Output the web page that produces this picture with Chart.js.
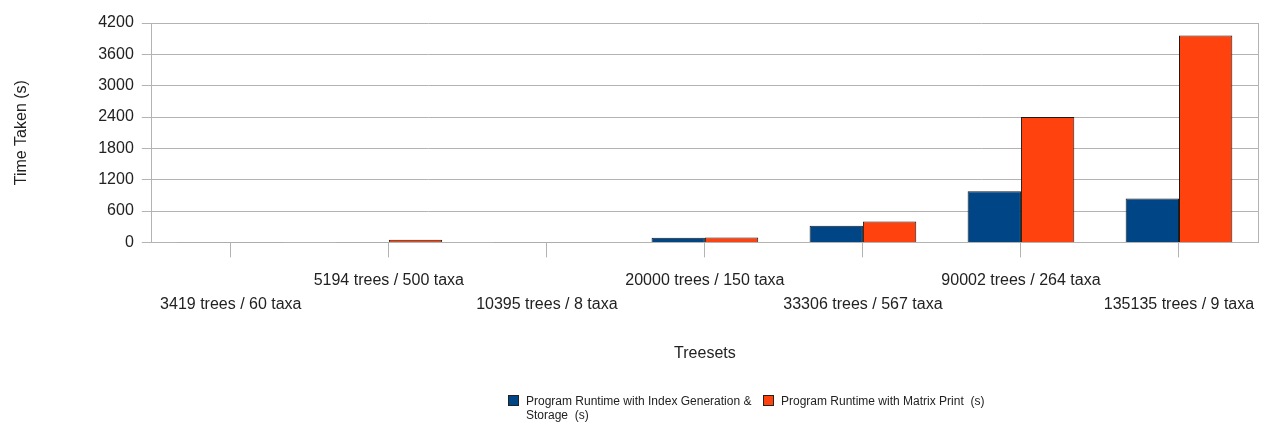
<!DOCTYPE html>
<html>
<head>
<meta charset="utf-8">
<script src="https://cdn.jsdelivr.net/npm/chart.js@4"></script>
<style>
  body { margin: 0; background: #fff; font-family: "Liberation Sans", Arial, sans-serif; }
  #wrap { position: relative; width: 1275px; height: 426px; }
  #legend { position: absolute; left: 508px; top: 394px; display: flex; font-size: 12px; color: #222; line-height: 14px; }
  .item { display: flex; align-items: flex-start; margin-right: 5px; }
  .box { width: 9px; height: 9px; border: 1px solid #222; margin: 1px 7px 0 0; flex: none; }
  .txt { white-space: pre-wrap; }
</style>
</head>
<body>
<div id="wrap">
  <canvas id="chart" width="1275" height="426"></canvas>
  <div id="legend"></div>
</div>
<script>
const treesets = [
  '3419 trees / 60 taxa',
  '5194 trees / 500 taxa',
  '10395 trees / 8 taxa',
  '20000 trees / 150 taxa',
  '33306 trees / 567 taxa',
  '90002 trees / 264 taxa',
  '135135 trees / 9 taxa'
]
const indexRuntime = [5, 5, 5, 90, 320, 980, 840]
const matrixRuntime = [5, 50, 5, 95, 400, 2400, 3960]
const seriesNames = ['Program Runtime with Index Generation & Storage  (s)', 'Program Runtime with Matrix Print  (s)']
const seriesColors = ['#004586', '#ff420e']

const font = "'Liberation Sans', Arial, sans-serif"
const gridGray = '#b3b3b3'

// frame on the right side of the plot
const frame = {
  id: 'frame',
  afterDraw(chart) {
    const { ctx, chartArea } = chart
    ctx.save()
    ctx.strokeStyle = gridGray
    ctx.lineWidth = 1
    ctx.beginPath()
    ctx.moveTo(Math.round(chartArea.right) + 0.5, chartArea.top)
    ctx.lineTo(Math.round(chartArea.right) + 0.5, chartArea.bottom)
    ctx.stroke()
    ctx.restore()
  }
}

const chart = new Chart(document.getElementById('chart').getContext('2d'), {
  type: 'bar',
  data: {
    labels: treesets,
    datasets: [
      { label: seriesNames[0], data: indexRuntime, backgroundColor: seriesColors[0], borderColor: '#1a1a1a', borderWidth: 1 },
      { label: seriesNames[1], data: matrixRuntime, backgroundColor: seriesColors[1], borderColor: '#1a1a1a', borderWidth: 1 }
    ]
  },
  options: {
    responsive: false,
    animation: false,
    layout: { padding: { top: 23, right: 17, bottom: 63, left: 12 } },
    datasets: { bar: { categoryPercentage: 0.675, barPercentage: 1 } },
    plugins: {
      legend: { display: false },
      tooltip: { enabled: false }
    },
    scales: {
      x: {
        grid: { display: true, drawOnChartArea: false, offset: false, tickLength: 15, color: gridGray },
        border: { color: gridGray },
        ticks: {
          autoSkip: false,
          maxRotation: 0,
          minRotation: 0,
          padding: 12,
          color: '#222',
          font: { family: font, size: 16, lineHeight: 1.45 },
          callback: function (value, index) {
            const l = this.getLabelForValue(value)
            return index % 2 ? [l, ''] : ['', l]
          }
        },
        title: { display: true, text: 'Treesets', color: '#222', font: { family: font, size: 16 }, padding: { top: 16, bottom: 0 } }
      },
      y: {
        min: 0,
        max: 4200,
        grid: { color: gridGray, tickLength: 10 },
        border: { color: gridGray },
        ticks: {
          stepSize: 600,
          padding: 8,
          color: '#222',
          font: { family: font, size: 16 },
          callback: (v) => String(v)
        },
        title: { display: true, text: 'Time Taken (s)', color: '#222', font: { family: font, size: 16 }, padding: { top: 0, bottom: 59 } }
      }
    }
  },
  plugins: [frame]
})

const legend = document.getElementById('legend')
seriesNames.forEach((name, i) => {
  const item = document.createElement('div')
  item.className = 'item'
  const box = document.createElement('div')
  box.className = 'box'
  box.style.background = seriesColors[i]
  const txt = document.createElement('div')
  txt.className = 'txt'
  txt.textContent = name
  if (i === 0) txt.style.width = '232px'
  item.appendChild(box)
  item.appendChild(txt)
  legend.appendChild(item)
})
</script>
</body>
</html>
